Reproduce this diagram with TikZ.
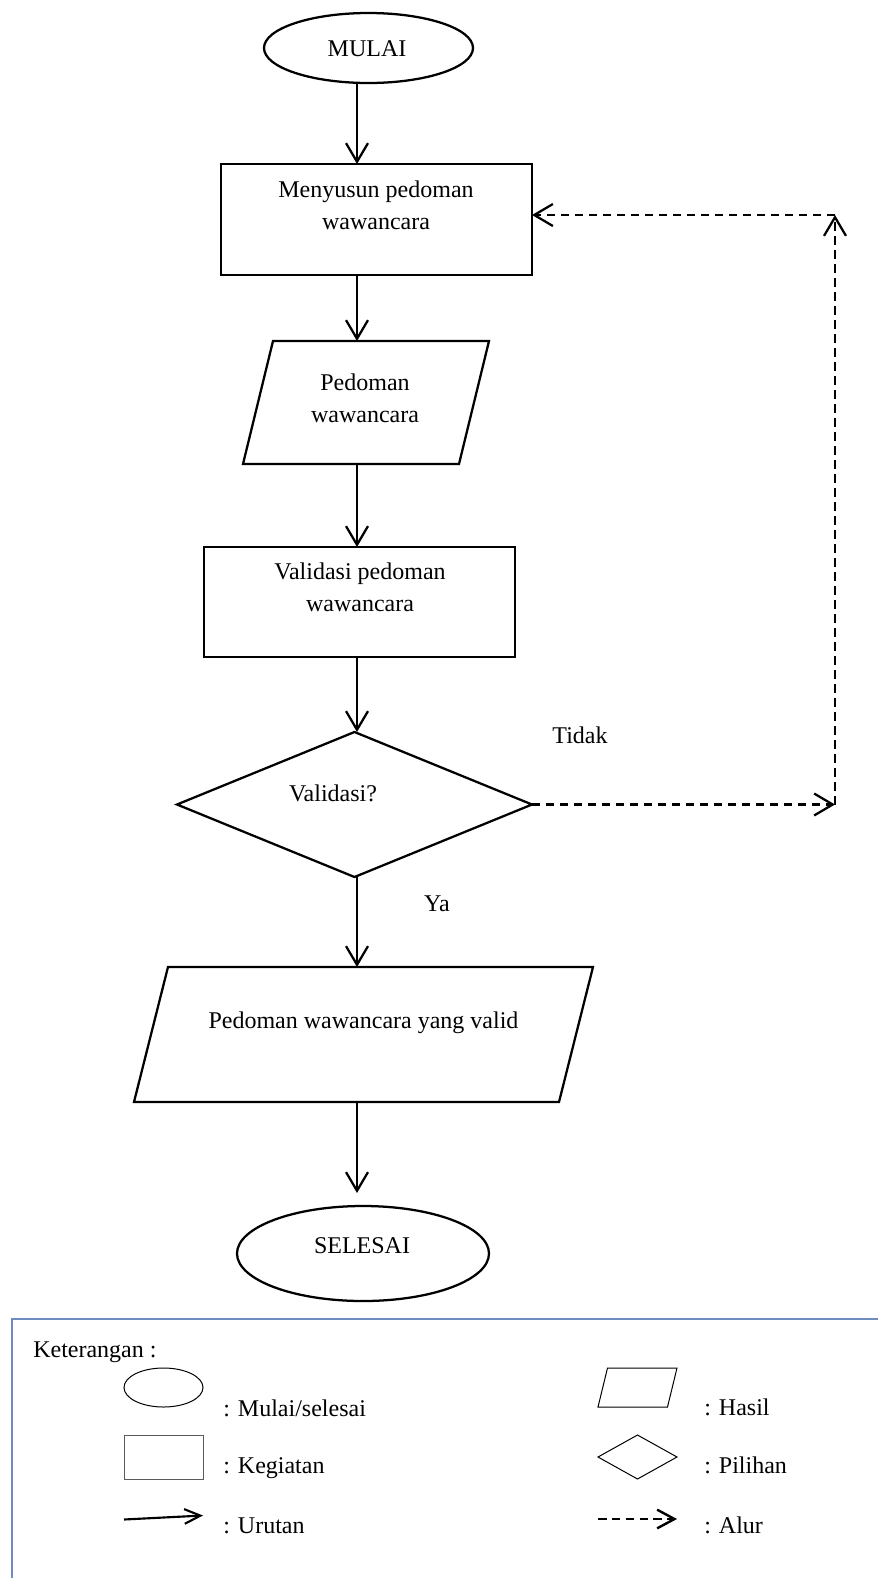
\documentclass[tikz,border=0pt]{standalone}
\usepackage{fontspec}
\setmainfont{Liberation Serif}
\usetikzlibrary{arrows.meta,shapes.geometric}
% one drawing unit = 0.75pt, y grows downwards
\newcommand\pxu{0.75pt}
% outline of a parallelogram leaning right inside the box of node #1,
% with a horizontal offset of #2 between top and bottom edges
\newcommand\slantbox[3]{%
  \draw[#3] ([xshift=#2]#1.north west) -- (#1.north east)
    -- ([xshift=-#2]#1.south east) -- (#1.south west) -- cycle;}
\definecolor{legendframe}{RGB}{110,140,190}
\definecolor{legendgray}{RGB}{90,90,90}
\begin{document}
\begin{tikzpicture}[x=0.75pt,y=-0.75pt,
  shapebox/.style={draw,line width=1.7pt,inner sep=0pt,outer sep=0pt},
  parbox/.style={rectangle,inner sep=0pt,outer sep=0pt},
  flow/.style={line width=1.7pt,
    -{Straight Barb[length=14pt,width=16.5pt]}},
  backflow/.style={flow,dash pattern=on 6.3pt off 4.2pt},
  lbl/.style={font=\fontsize{18}{24}\selectfont,inner sep=0pt,
    anchor=base,align=center},
  keytext/.style={font=\fontsize{18}{24}\selectfont,inner sep=0pt,
    anchor=base west},
  keyshape/.style={draw,line width=0.75pt,inner sep=0pt,outer sep=0pt,
    minimum width=79*\pxu},
]
\useasboundingbox (0,0) rectangle (878,1578);

% main axis of the flow
\coordinate (ax) at (357,0);

% ---- flowchart shapes (two-line labels are placed by their last baseline) ----
\node[shapebox,ellipse,minimum width=209*\pxu,minimum height=70*\pxu]
  (mulai) at (368.5,48) {};
\node[lbl] (mulaiT) at (367,56) {MULAI};

\node[shapebox,rectangle,minimum width=311*\pxu,minimum height=111*\pxu]
  (susun) at (376.5,219.5) {};
\node[lbl] (susunT) at (376,229) {Menyusun pedoman\\wawancara};

\node[parbox,minimum width=246*\pxu,minimum height=123*\pxu]
  (pedoman) at (366,402.5) {};
\slantbox{pedoman}{30*\pxu}{line width=1.7pt}
\node[lbl] (pedomanT) at (365,422) {Pedoman\\wawancara};

\node[shapebox,rectangle,minimum width=311*\pxu,minimum height=110*\pxu]
  (validasi) at (359.5,602) {};
\node[lbl] (validasiT) at (360,611) {Validasi pedoman\\wawancara};

\node[shapebox,diamond,minimum width=355*\pxu,minimum height=145*\pxu]
  (cek) at (354.5,804.5) {};
\node[lbl] (cekT) at (333,801) {Validasi?};

\node[parbox,minimum width=459*\pxu,minimum height=135*\pxu]
  (hasil) at (363.5,1034.5) {};
\slantbox{hasil}{34*\pxu}{line width=1.7pt}
\node[lbl] (hasilT) at (363.5,1028) {Pedoman wawancara yang valid};

\node[shapebox,ellipse,minimum width=252*\pxu,minimum height=95*\pxu]
  (selesai) at (363,1253.5) {};
\node[lbl] (selesaiT) at (362,1253) {SELESAI};

% branch labels
\node[lbl] (tidak) at (580,743) {Tidak};
\node[lbl] (ya) at (437,911) {Ya};

% ---- sequence arrows ----
\draw[flow] (mulai.south -| ax) -- (susun.north -| ax);
\draw[flow] (susun.south -| ax) -- (pedoman.north -| ax);
\draw[flow] (pedoman.south -| ax) -- (validasi.north -| ax);
\draw[flow] (validasi.south -| ax) -- (cek.north -| ax);
\draw[flow] (cek.south -| ax) -- (hasil.north -| ax);
\draw[flow,shorten >=9.75pt] (hasil.south -| ax) -- (selesai.north -| ax);

% ---- loop back when not valid ----
\coordinate (loopB) at (835,804.5);
\coordinate (loopT) at (835,215);
\draw[backflow] (cek.east) -- (loopB);
\draw[backflow] (loopB) -- (loopT);
\draw[backflow] (loopT) -- (susun.east |- loopT);

% ---- legend ----
\draw[legendframe,line width=0.9pt] (878,1319) -- (12,1319) -- (12,1578);
\node[keytext] (ket) at (33,1357) {Keterangan :};

\node[keyshape,ellipse,minimum height=39*\pxu] (kEll) at (163.5,1387.5) {};
\node[keytext] (kEllT) at (223,1416) {: Mulai/selesai};

\node[keyshape,rectangle,draw=legendgray,minimum height=44*\pxu]
  (kRect) at (163.5,1457) {};
\node[keytext] (kRectT) at (223,1473) {: Kegiatan};

\coordinate (kArrA) at (124,1519.5);
\coordinate (kArrB) at (203,1515.5);
\draw[line width=1.6pt,-{Straight Barb[length=12pt,width=11pt]}] (kArrA) -- (kArrB);
\node[keytext] (kArrT) at (223,1533) {: Urutan};

\node[parbox,minimum width=79*\pxu,minimum height=39*\pxu] (kPar) at (637.5,1387.5) {};
\slantbox{kPar}{9.5*\pxu}{line width=0.75pt}
\node[keytext] (kParT) at (704,1415) {: Hasil};

\node[keyshape,diamond,minimum height=44*\pxu] (kDia) at (637.5,1457) {};
\node[keytext] (kDiaT) at (704,1473) {: Pilihan};

\coordinate (kDashA) at (598,1519);
\coordinate (kDashB) at (677,1519);
\draw[line width=1.8pt,dash pattern=on 6.4pt off 4pt,
  -{Straight Barb[length=13pt,width=14pt]}] (kDashA) -- (kDashB);
\node[keytext] (kDashT) at (704,1533) {: Alur};
\end{tikzpicture}
\end{document}
